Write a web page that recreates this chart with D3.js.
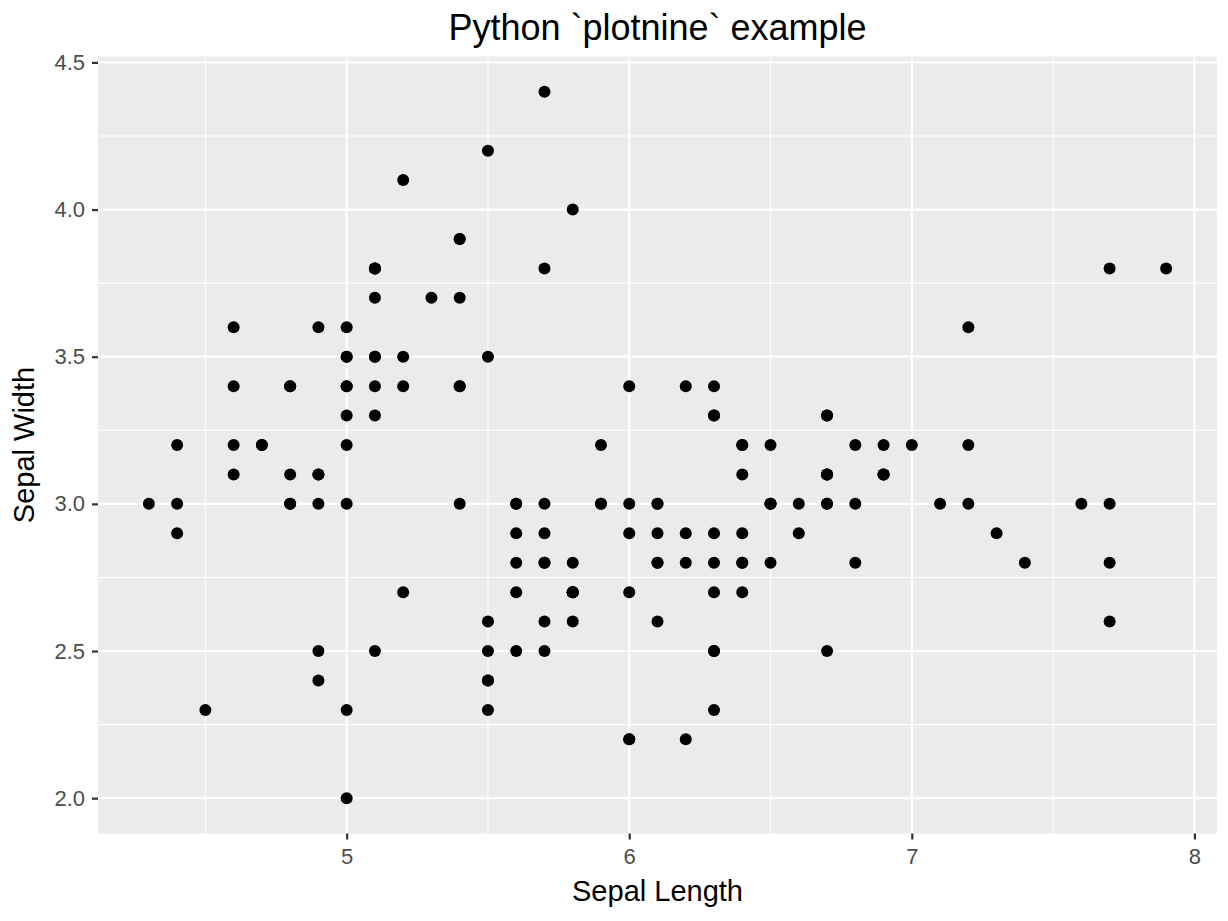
<!DOCTYPE html>
<html>
<head>
<meta charset="utf-8">
<script src="https://cdn.jsdelivr.net/npm/d3@7"></script>
<style>
  html, body { margin: 0; padding: 0; background: #fff; }
  svg { display: block; font-family: "Liberation Sans", Arial, Helvetica, sans-serif; }
</style>
</head>
<body>
<svg id="chart" width="1228" height="921"></svg>
<script>
const chartTitle = "Python `plotnine` example";
const xLabel = "Sepal Length";
const yLabel = "Sepal Width";

const sepalLength = [
  5.1,4.9,4.7,4.6,5.0,5.4,4.6,5.0,4.4,4.9,5.4,4.8,4.8,4.3,5.8,5.7,5.4,5.1,5.7,5.1,
  5.4,5.1,4.6,5.1,4.8,5.0,5.0,5.2,5.2,4.7,4.8,5.4,5.2,5.5,4.9,5.0,5.5,4.9,4.4,5.1,
  5.0,4.5,4.4,5.0,5.1,4.8,5.1,4.6,5.3,5.0,
  7.0,6.4,6.9,5.5,6.5,5.7,6.3,4.9,6.6,5.2,5.0,5.9,6.0,6.1,5.6,6.7,5.6,5.8,6.2,5.6,
  5.9,6.1,6.3,6.1,6.4,6.6,6.8,6.7,6.0,5.7,5.5,5.5,5.8,6.0,5.4,6.0,6.7,6.3,5.6,5.5,
  5.5,6.1,5.8,5.0,5.6,5.7,5.7,6.2,5.1,5.7,
  6.3,5.8,7.1,6.3,6.5,7.6,4.9,7.3,6.7,7.2,6.5,6.4,6.8,5.7,5.8,6.4,6.5,7.7,7.7,6.0,
  6.9,5.6,7.7,6.3,6.7,7.2,6.2,6.1,6.4,7.2,7.4,7.9,6.4,6.3,6.1,7.7,6.3,6.4,6.0,6.9,
  6.7,6.9,5.8,6.8,6.7,6.7,6.3,6.5,6.2,5.9
];
const sepalWidth = [
  3.5,3.0,3.2,3.1,3.6,3.9,3.4,3.4,2.9,3.1,3.7,3.4,3.0,3.0,4.0,4.4,3.9,3.5,3.8,3.8,
  3.4,3.7,3.6,3.3,3.4,3.0,3.4,3.5,3.4,3.2,3.1,3.4,4.1,4.2,3.1,3.2,3.5,3.6,3.0,3.4,
  3.5,2.3,3.2,3.5,3.8,3.0,3.8,3.2,3.7,3.3,
  3.2,3.2,3.1,2.3,2.8,2.8,3.3,2.4,2.9,2.7,2.0,3.0,2.2,2.9,2.9,3.1,3.0,2.7,2.2,2.5,
  3.2,2.8,2.5,2.8,2.9,3.0,2.8,3.0,2.9,2.6,2.4,2.4,2.7,2.7,3.0,3.4,3.1,2.3,3.0,2.5,
  2.6,3.0,2.6,2.3,2.7,3.0,2.9,2.9,2.5,2.8,
  3.3,2.7,3.0,2.9,3.0,3.0,2.5,2.9,2.5,3.6,3.2,2.7,3.0,2.5,2.8,3.2,3.0,3.8,2.6,2.2,
  3.2,2.8,2.8,2.7,3.3,3.2,2.8,3.0,2.8,3.0,2.8,3.8,2.8,2.8,2.6,3.0,3.4,3.1,3.0,3.1,
  3.1,3.1,2.7,3.2,3.3,3.0,2.5,3.0,3.4,3.0
];

const xTicks = [5, 6, 7, 8];
const xTickLabels = ["5", "6", "7", "8"];
const xMinor = [4.5, 5.5, 6.5, 7.5];
const yTicks = [2.0, 2.5, 3.0, 3.5, 4.0, 4.5];
const yTickLabels = ["2.0", "2.5", "3.0", "3.5", "4.0", "4.5"];
const yMinor = [2.25, 2.75, 3.25, 3.75, 4.25];

const svg = d3.select("#chart");
const panel = { left: 98, right: 1217, top: 56.5, bottom: 833.5 };

const xExt = d3.extent(sepalLength), yExt = d3.extent(sepalWidth);
const xPad = (xExt[1] - xExt[0]) * 0.05, yPad = (yExt[1] - yExt[0]) * 0.05;
const x = d3.scaleLinear().domain([xExt[0] - xPad, xExt[1] + xPad]).range([panel.left, panel.right]);
const y = d3.scaleLinear().domain([yExt[0] - yPad, yExt[1] + yPad]).range([panel.bottom, panel.top]);

// panel background
svg.append("rect")
  .attr("x", panel.left).attr("y", panel.top)
  .attr("width", panel.right - panel.left).attr("height", panel.bottom - panel.top)
  .attr("fill", "#EBEBEB");

const grid = svg.append("g");
grid.selectAll(".xminor").data(xMinor).join("line")
  .attr("x1", d => x(d)).attr("x2", d => x(d))
  .attr("y1", panel.top).attr("y2", panel.bottom)
  .attr("stroke", "#fff").attr("stroke-width", 1.1);
grid.selectAll(".yminor").data(yMinor).join("line")
  .attr("class", "yminor")
  .attr("y1", d => y(d)).attr("y2", d => y(d))
  .attr("x1", panel.left).attr("x2", panel.right)
  .attr("stroke", "#fff").attr("stroke-width", 1.1);
grid.selectAll(".xmajor").data(xTicks).join("line")
  .attr("class", "xmajor")
  .attr("x1", d => x(d)).attr("x2", d => x(d))
  .attr("y1", panel.top).attr("y2", panel.bottom)
  .attr("stroke", "#fff").attr("stroke-width", 2.2);
grid.selectAll(".ymajor").data(yTicks).join("line")
  .attr("class", "ymajor")
  .attr("y1", d => y(d)).attr("y2", d => y(d))
  .attr("x1", panel.left).attr("x2", panel.right)
  .attr("stroke", "#fff").attr("stroke-width", 2.2);

// points
svg.append("g").selectAll("circle").data(sepalLength.map((v, i) => [v, sepalWidth[i]]))
  .join("circle")
  .attr("cx", d => x(d[0])).attr("cy", d => y(d[1]))
  .attr("r", 6).attr("fill", "#000");

// axes
const xAxis = d3.axisBottom(x).tickValues(xTicks).tickFormat((d, i) => xTickLabels[i]).tickSize(6).tickPadding(9);
const gx = svg.append("g").attr("transform", `translate(0,${panel.bottom})`).call(xAxis);
gx.select(".domain").remove();
gx.selectAll(".tick line").attr("stroke", "#333").attr("stroke-width", 2.2);
gx.selectAll(".tick text").attr("fill", "#4D4D4D").attr("font-size", 22)
  .attr("font-family", "Liberation Sans, Arial, sans-serif");

const yAxis = d3.axisLeft(y).tickValues(yTicks).tickFormat((d, i) => yTickLabels[i]).tickSize(6).tickPadding(7);
const gy = svg.append("g").attr("transform", `translate(${panel.left},0)`).call(yAxis);
gy.select(".domain").remove();
gy.selectAll(".tick line").attr("stroke", "#333").attr("stroke-width", 2.2);
gy.selectAll(".tick text").attr("fill", "#4D4D4D").attr("font-size", 22)
  .attr("font-family", "Liberation Sans, Arial, sans-serif");

// titles
const cx = (panel.left + panel.right) / 2;
svg.append("text").attr("x", cx).attr("y", 40).attr("text-anchor", "middle")
  .attr("font-size", 36).attr("fill", "#000").text(chartTitle);
svg.append("text").attr("x", cx).attr("y", 901).attr("text-anchor", "middle")
  .attr("font-size", 29).attr("fill", "#000").text(xLabel);
svg.append("text")
  .attr("transform", `translate(34,${(panel.top + panel.bottom) / 2}) rotate(-90)`)
  .attr("text-anchor", "middle")
  .attr("font-size", 29).attr("fill", "#000").text(yLabel);
</script>
</body>
</html>
